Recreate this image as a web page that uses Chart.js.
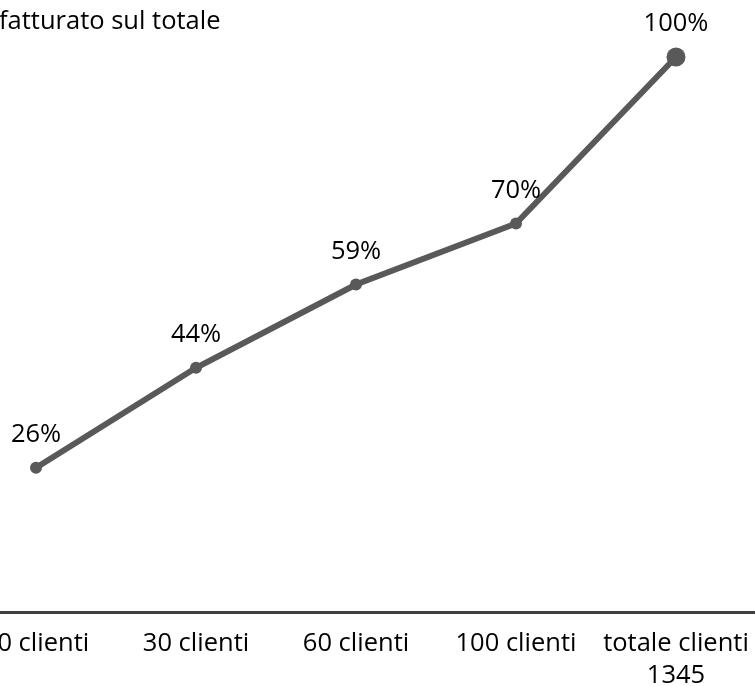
<!DOCTYPE html>
<html>
<head>
<meta charset="utf-8">
<script src="https://cdn.jsdelivr.net/npm/chart.js@4"></script>
<style>
  html, body { margin: 0; padding: 0; background: #fff; overflow: hidden; }
  #wrap { position: absolute; left: -44px; top: 0; width: 800px; height: 686px; }
</style>
</head>
<body>
<div id="wrap"><canvas id="curva" width="800" height="686"></canvas></div>
<script>
// quota cumulata di fatturato per gruppi di clienti
var categorie = ["10 clienti", "30 clienti", "60 clienti", "100 clienti", ["totale clienti", "1345"]];
var quote = [26, 44, 59, 70, 100];
var etichette = ["26%", "44%", "59%", "70%", "100%"];
var raggi = [6, 6, 6, 6, 9.5];

var FONT = '"Open Sans", sans-serif';
var DIM = 25.5;

// percentuali sopra i punti
var etichettePunti = {
    id: "etichettePunti",
    afterDatasetsDraw: function (chart) {
        var ctx = chart.ctx;
        var meta = chart.getDatasetMeta(0);
        ctx.save();
        ctx.font = DIM + "px " + FONT;
        ctx.fillStyle = "#000";
        ctx.textAlign = "center";
        ctx.textBaseline = "alphabetic";
        meta.data.forEach(function (p, i) {
            ctx.fillText(etichette[i], p.x, p.y - 26);
        });
        ctx.restore();
    }
};

// titolo in alto a sinistra
var titolo = {
    id: "titolo",
    afterDraw: function (chart) {
        var ctx = chart.ctx;
        ctx.save();
        ctx.font = DIM + "px " + FONT;
        ctx.fillStyle = "#000";
        ctx.textAlign = "left";
        ctx.textBaseline = "alphabetic";
        ctx.fillText("fatturato sul totale", 43, 29);
        ctx.restore();
    }
};

var ctx = document.getElementById("curva").getContext("2d");
new Chart(ctx, {
    type: "line",
    data: {
        labels: categorie,
        datasets: [{
            data: quote,
            borderColor: "#595959",
            backgroundColor: "#595959",
            borderWidth: 6,
            pointRadius: raggi,
            pointHoverRadius: raggi,
            pointBackgroundColor: "#595959",
            pointBorderColor: "#595959",
            pointBorderWidth: 0,
            tension: 0,
            clip: false
        }]
    },
    options: {
        responsive: false,
        animation: false,
        layout: { autoPadding: false, padding: { top: 57, left: 0, right: 0, bottom: 0 } },
        plugins: {
            legend: { display: false },
            tooltip: { enabled: false },
            title: { display: false }
        },
        scales: {
            x: {
                offset: true,
                grid: { display: false, drawTicks: false },
                border: { display: true, color: "#404040", width: 3 },
                ticks: {
                    color: "#000",
                    padding: 16,
                    maxRotation: 0,
                    autoSkip: false,
                    font: { family: FONT, size: DIM, lineHeight: 1.25 }
                },
                afterFit: function (scale) {
                    // altezza fissa e nessun margine laterale per le etichette
                    scale.height = 74;
                    scale.paddingLeft = 0;
                    scale.paddingRight = 0;
                }
            },
            y: {
                display: false,
                min: 0,
                max: 100
            }
        }
    },
    plugins: [etichettePunti, titolo]
});
</script>
</body>
</html>
